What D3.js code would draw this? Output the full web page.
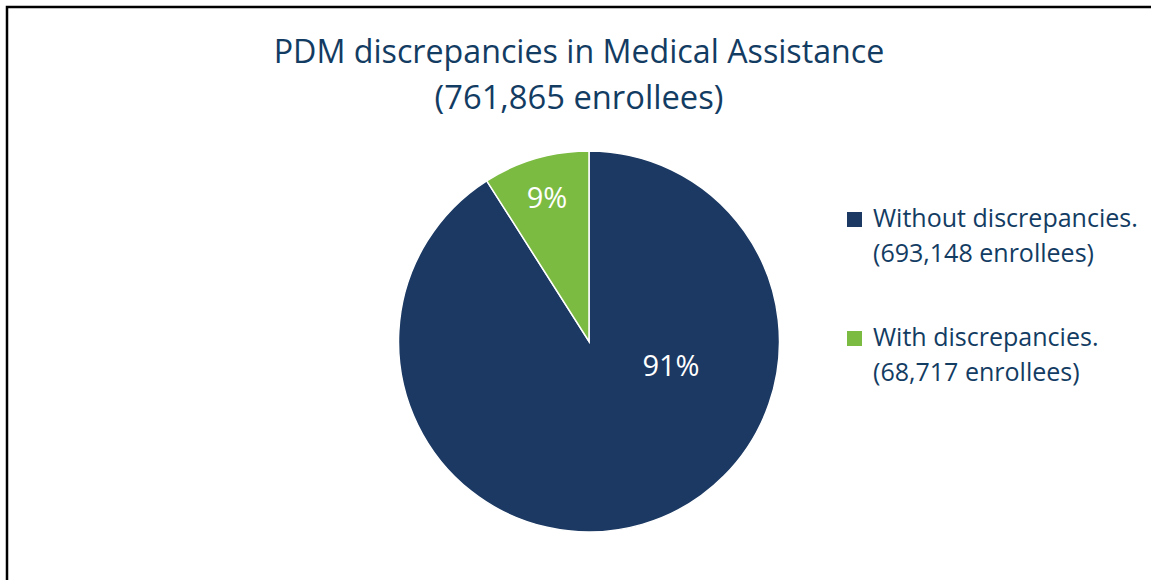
<!DOCTYPE html>
<html>
<head>
<meta charset="utf-8">
<script src="https://cdn.jsdelivr.net/npm/d3@7"></script>
<style>
  body { margin: 0; background: #fff; }
  svg { display: block; font-family: "Open Sans", "Noto Sans", sans-serif; }
</style>
</head>
<body>
<div id="chart"></div>
<script>

// data
var categories = ['Without discrepancies.', 'With discrepancies.'];
var enrollees = [693148, 68717];
var enrolleeLabels = ['(693,148 enrollees)', '(68,717 enrollees)'];
var pctLabels = ['91%', '9%'];
var titleLines = ['PDM discrepancies in Medical Assistance', '(761,865 enrollees)'];

var width = 1151,
    height = 580;

var colors = d3.scaleOrdinal()
    .domain(categories)
    .range(['#1b3963', '#7cbb42']);

var svg = d3.select('#chart')
    .append('svg')
    .attr('width', width)
    .attr('height', height);

// frame (bottom and right run off the picture)
svg.append('path')
    .attr('d', 'M7,' + (height + 5) + 'V7H' + (width + 5))
    .attr('fill', 'none')
    .attr('stroke', '#000')
    .attr('stroke-width', 2.5);

// scale font so a text gets the width it has in the original
function fit(sel, node, w) {
    var l = node.getComputedTextLength();
    var fs = parseFloat(sel.attr('font-size'));
    sel.attr('font-size', fs * w / l);
}

var title = svg.append('g')
    .attr('fill', '#133c63');

title.selectAll('text')
    .data(titleLines)
    .enter()
    .append('text')
    .attr('x', 579)
    .attr('y', (d, i) => 63 + i * 46)
    .attr('text-anchor', 'middle')
    .attr('font-size', 30)
    .text(d => d)
    .each(function (d, i) { fit(d3.select(this), this, i == 0 ? 611 : 289); });

// pie
var cx = 589, cy = 341.5, r = 190.5;

var pie = d3.pie()
    .sort(null)
    .value(d => d);

var arc = d3.arc()
    .innerRadius(0)
    .outerRadius(r);

var slices = pie(enrollees);

var g = svg.append('g')
    .attr('transform', 'translate(' + cx + ',' + cy + ')');

g.selectAll('path')
    .data(slices)
    .enter()
    .append('path')
    .attr('d', arc)
    .attr('fill', (d, i) => colors(categories[i]))
    .attr('stroke', '#fff')
    .attr('stroke-width', 1.5);

var labelArc = d3.arc()
    .innerRadius(150)
    .outerRadius(150);

g.selectAll('text.lbl')
    .data(slices)
    .enter()
    .append('text')
    .attr('class', 'lbl')
    .attr('transform', (d, i) => {
        // the big slice label sits right of centre, like excel puts it
        var p = i == 0 ? [82, 24] : labelArc.centroid(d);
        return 'translate(' + p + ')';
    })
    .attr('text-anchor', 'middle')
    .attr('dy', '0.35em')
    .attr('fill', '#fff')
    .attr('font-size', 29)
    .text((d, i) => pctLabels[i]);

// legend
var legend = svg.selectAll('g.legend')
    .data(categories)
    .enter()
    .append('g')
    .attr('class', 'legend')
    .attr('transform', (d, i) => 'translate(847,' + (212 + i * 119) + ')');

legend.append('rect')
    .attr('width', 15)
    .attr('height', 15)
    .attr('fill', d => colors(d));

legend.each(function (d, i) {
    var t = d3.select(this).append('text')
        .attr('fill', '#133c63')
        .attr('font-size', 22);
    t.selectAll('tspan')
        .data([d, enrolleeLabels[i]])
        .enter()
        .append('tspan')
        .attr('x', 26)
        .attr('y', (s, j) => 15 + j * 35)
        .text(s => s);
    if (i == 0) fit(t, t.select('tspan').node(), 265);
});
// both entries share one size
legend.selectAll('text')
    .attr('font-size', legend.select('text').attr('font-size'));

</script>
</body>
</html>
